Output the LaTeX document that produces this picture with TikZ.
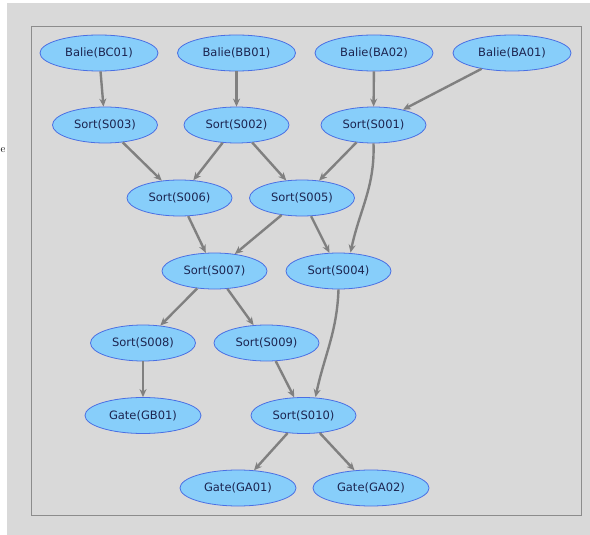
\documentclass[tikz,border=0pt]{standalone}
\usepackage{fontspec}
\setsansfont{DejaVu Sans}
\usetikzlibrary{shapes.geometric, arrows.meta}

\definecolor{nodefill}{HTML}{87CEFA}
\definecolor{nodeline}{HTML}{4A6FE3}
\definecolor{nodetext}{HTML}{1C2550}
\definecolor{edgegray}{HTML}{808080}
\definecolor{bggray}{HTML}{D9D9D9}
\definecolor{framegray}{HTML}{8C8C8C}

\begin{document}
\begin{tikzpicture}[x=1pt, y=-1pt,
    station/.style={ellipse, draw=nodeline, fill=nodefill, line width=0.8pt, inner sep=0pt,
        minimum height=36pt, text=nodetext, font=\sffamily\fontsize{11.5}{13}\selectfont},
    balie/.style={station, minimum width=118pt},
    sorter/.style={station, minimum width=105pt},
    gate/.style={station, minimum width=116pt},
    flow/.style={-{Stealth[length=8pt, width=7pt]}, draw=edgegray, line width=2.4pt}]
        % Background and frame
        \useasboundingbox (0,0) rectangle (590,535);
        \fill[white] (0,0) rectangle (590,535);
        \node[anchor=west, inner sep=0pt, font=\fontsize{11}{13}\selectfont] at (0.5,150) {e};
        \fill[bggray] (7,3) rectangle (590,535);
        \draw[framegray, line width=1pt] (31,27) rectangle (581,515);

        % Balies
        \node[balie] (BC01) at (99,53) {Balie(BC01)};
        \node[balie] (BB01) at (236.5,53) {Balie(BB01)};
        \node[balie] (BA02) at (374,53) {Balie(BA02)};
        \node[balie] (BA01) at (512,53) {Balie(BA01)};

        % Sorters
        \node[sorter] (S003) at (105,125) {Sort(S003)};
        \node[sorter] (S002) at (236.5,125) {Sort(S002)};
        \node[sorter] (S001) at (373.5,125) {Sort(S001)};
        \node[sorter] (S006) at (179.5,198) {Sort(S006)};
        \node[sorter] (S005) at (302,198) {Sort(S005)};
        \node[sorter] (S007) at (214.5,271) {Sort(S007)};
        \node[sorter] (S004) at (338.5,271) {Sort(S004)};
        \node[sorter] (S008) at (143,343) {Sort(S008)};
        \node[sorter] (S009) at (266.5,343) {Sort(S009)};
        \node[sorter] (S010) at (303.5,415.5) {Sort(S010)};

        % Gates
        \node[gate] (GB01) at (143,415.5) {Gate(GB01)};
        \node[gate] (GA01) at (238,488) {Gate(GA01)};
        \node[gate] (GA02) at (371,488) {Gate(GA02)};

        % Flows
        \draw[flow] (BC01) -- (S003);
        \draw[flow] (BB01) -- (S002);
        \draw[flow] (BA02) -- (S001);
        \draw[flow] (BA01) -- (S001);
        \draw[flow] (S003) -- (S006);
        \draw[flow] (S002) -- (S006);
        \draw[flow] (S002) -- (S005);
        \draw[flow] (S001) -- (S005);
        \draw[flow] (S001.south) to[out=-88, in=78] ([xshift=12pt]S004.north);
        \draw[flow] (S006) -- (S007);
        \draw[flow] (S005) -- (S007);
        \draw[flow] (S005) -- (S004);
        \draw[flow] (S007) -- (S008);
        \draw[flow] (S007) -- (S009);
        \draw[flow] (S008) -- (GB01);
        \draw[flow] (S009) -- (S010);
        \draw[flow] (S004.south) to[out=-92, in=78] ([xshift=12pt]S010.north);
        \draw[flow] (S010) -- (GA01);
        \draw[flow] (S010) -- (GA02);
    \end{tikzpicture}
\end{document}
